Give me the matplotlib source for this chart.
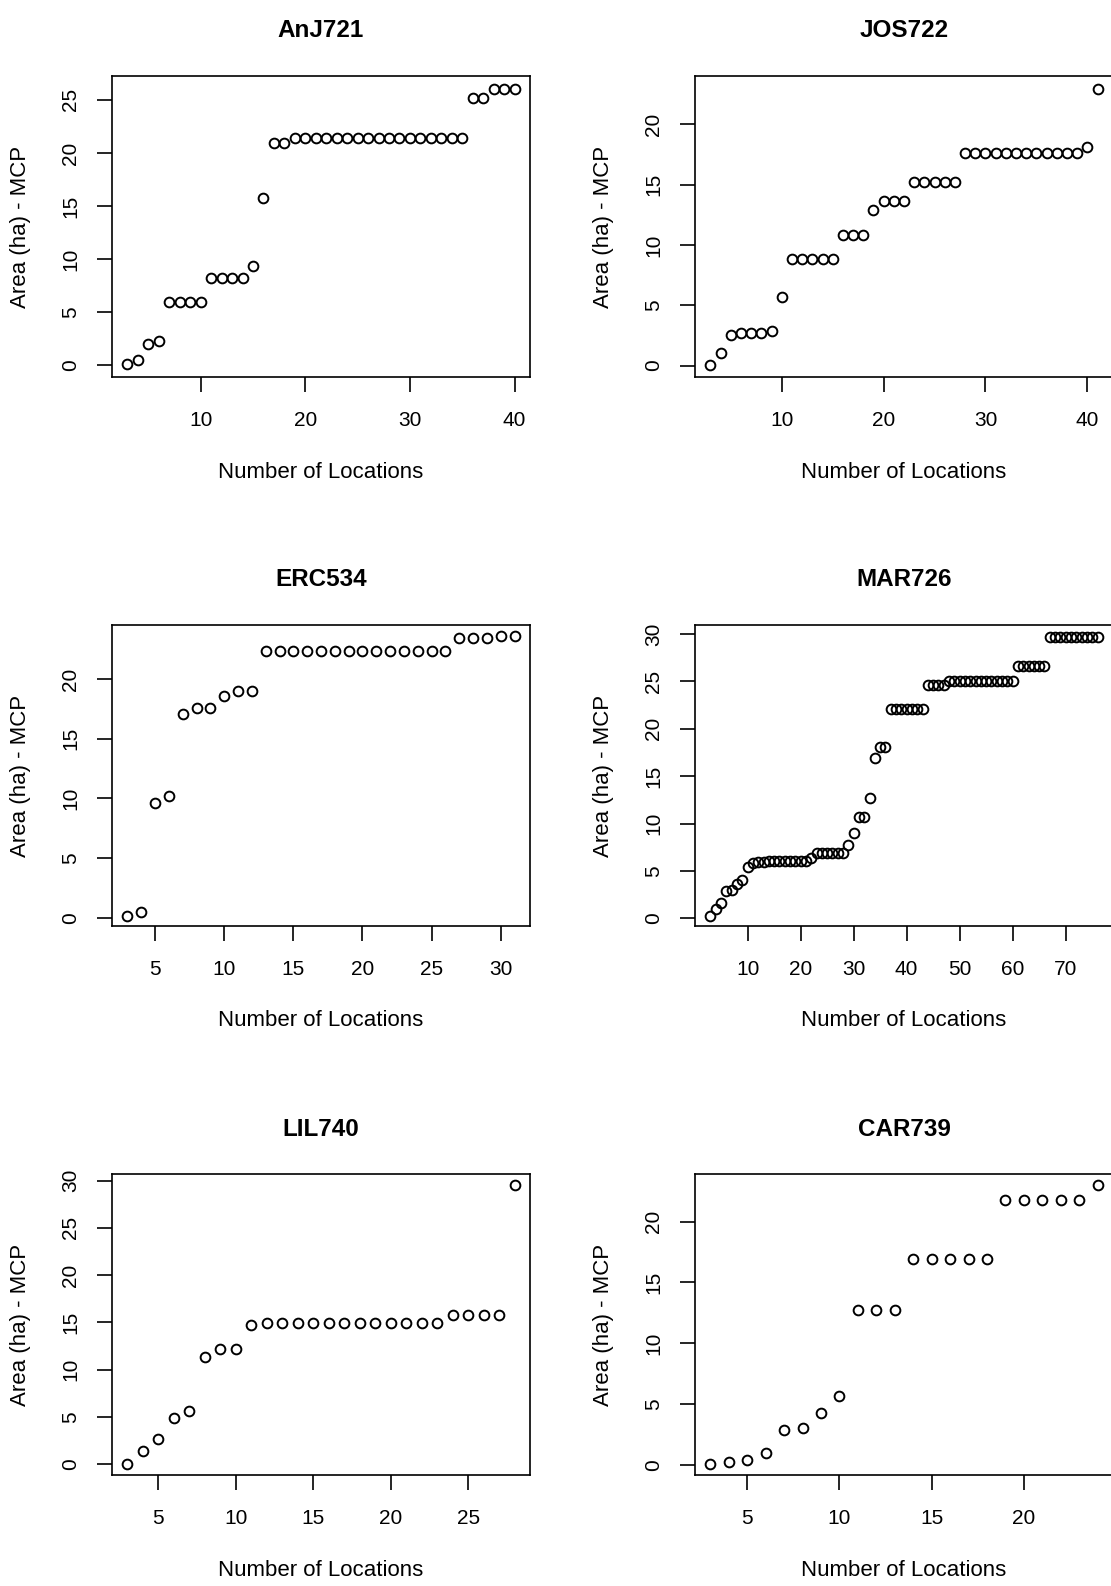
import matplotlib
matplotlib.use('Agg')
import matplotlib.pyplot as plt
from matplotlib.ticker import MultipleLocator

plt.rcParams['font.family'] = ['Liberation Sans', 'DejaVu Sans']

# Animal ids, one panel each
names = ['AnJ721', 'JOS722', 'ERC534', 'MAR726', 'LIL740', 'CAR739']

# MCP area (ha) for 3, 4, 5, ... locations
first_location = 3

anj721 = [0.1, 0.48, 1.97, 2.29, 5.95, 5.95, 5.95, 5.95, 8.2, 8.2, 8.2, 8.2, 9.4, 15.8,
          20.9, 20.9] + [21.4] * 17 + [25.2, 25.2, 26.0, 26.0, 26.0]

jos722 = [0.05, 1.05, 2.5, 2.68, 2.68, 2.68, 2.87, 5.69, 8.87, 8.87, 8.87, 8.87, 8.87,
          10.83, 10.83, 10.83, 12.93, 13.6, 13.6, 13.6, 15.2, 15.2, 15.2, 15.2, 15.2] \
    + [17.65] * 12 + [18.15, 22.9]

erc534 = [0.1, 0.5, 9.6, 10.24, 17.06, 17.56, 17.56, 18.6, 19.0, 19.0] + [22.36] * 14 \
    + [23.42, 23.42, 23.42, 23.6, 23.6]

mar726 = [0.25, 1.0, 1.6, 2.9, 3.0, 3.6, 4.1, 5.4, 5.85, 5.9, 5.9] + [6.07] * 8 \
    + [6.4] + [6.85] * 6 + [7.75, 9.05, 10.65, 10.65, 12.7, 16.95, 18.05, 18.05] \
    + [22.1] * 7 + [24.6] * 4 + [25.05] * 13 + [26.6] * 6 + [29.7] * 10

lil740 = [0.05, 1.36, 2.7, 4.93, 5.64, 11.34, 12.2, 12.2, 14.72] + [14.93] * 12 \
    + [15.8] * 4 + [29.57]

car739 = [0.14, 0.27, 0.41, 1.0, 2.87, 3.06, 4.3, 5.65, 12.7, 12.7, 12.7] + [16.93] * 5 \
    + [21.73] * 5 + [23.0]

areas = [anj721, jos722, erc534, mar726, lil740, car739]

# Axis limits and tick steps for each panel
x_limits = [(1.52, 41.48), (1.48, 42.52), (1.88, 32.12), (0.08, 78.92), (2.0, 29.0), (2.16, 24.84)]
y_limits = [(-1.1, 27.25), (-0.95, 24.0), (-0.7, 24.55), (-0.8, 30.95), (-1.15, 30.7), (-0.8, 23.9)]
x_steps = [10, 10, 5, 10, 5, 5]

W, H = 1111, 1586


def draw_panel(fig, rect, name, y, xlim, ylim, xstep):
    left, top, width, height = rect
    ax = fig.add_axes([left / W, 1 - (top + height) / H, width / W, height / H])

    x = list(range(first_location, first_location + len(y)))
    ax.plot(x, y, 'o', mfc='none', mec='black', ms=7, mew=1.4)

    ax.set_xlim(*xlim)
    ax.set_ylim(*ylim)
    ax.xaxis.set_major_locator(MultipleLocator(xstep))
    ax.yaxis.set_major_locator(MultipleLocator(5))

    for s in ax.spines.values():
        s.set_linewidth(1.2)
    ax.tick_params(axis='both', length=11, width=1.2, labelsize=15, colors='black')
    ax.tick_params(axis='x', pad=13.5)
    ax.tick_params(axis='y', pad=12, labelrotation=90)
    for lab in ax.get_yticklabels():
        lab.set_va('center')

    ax.annotate(name, xy=(0.5, 1), xycoords='axes fraction', xytext=(0, 45),
                textcoords='offset pixels', ha='center', va='center',
                fontsize=17.5, fontweight='bold')
    ax.annotate('Number of Locations', xy=(0.5, 0), xycoords='axes fraction',
                xytext=(0, -95), textcoords='offset pixels', ha='center', va='center',
                fontsize=16)
    ax.annotate('Area (ha) - MCP', xy=(0, 0.5), xycoords='axes fraction',
                xytext=(-91, 0), textcoords='offset pixels', ha='center', va='center',
                rotation=90, fontsize=16)
    return ax


def run():
    fig = plt.figure(figsize=(W / 100, H / 100), dpi=100)

    lefts = [112, 695]
    tops = [76, 625, 1174]
    for i, name in enumerate(names):
        rect = (lefts[i % 2], tops[i // 2], 418, 301)
        draw_panel(fig, rect, name, areas[i], x_limits[i], y_limits[i], x_steps[i])

    fig.savefig('out.png', dpi=100)


if __name__ == '__main__':
    run()
